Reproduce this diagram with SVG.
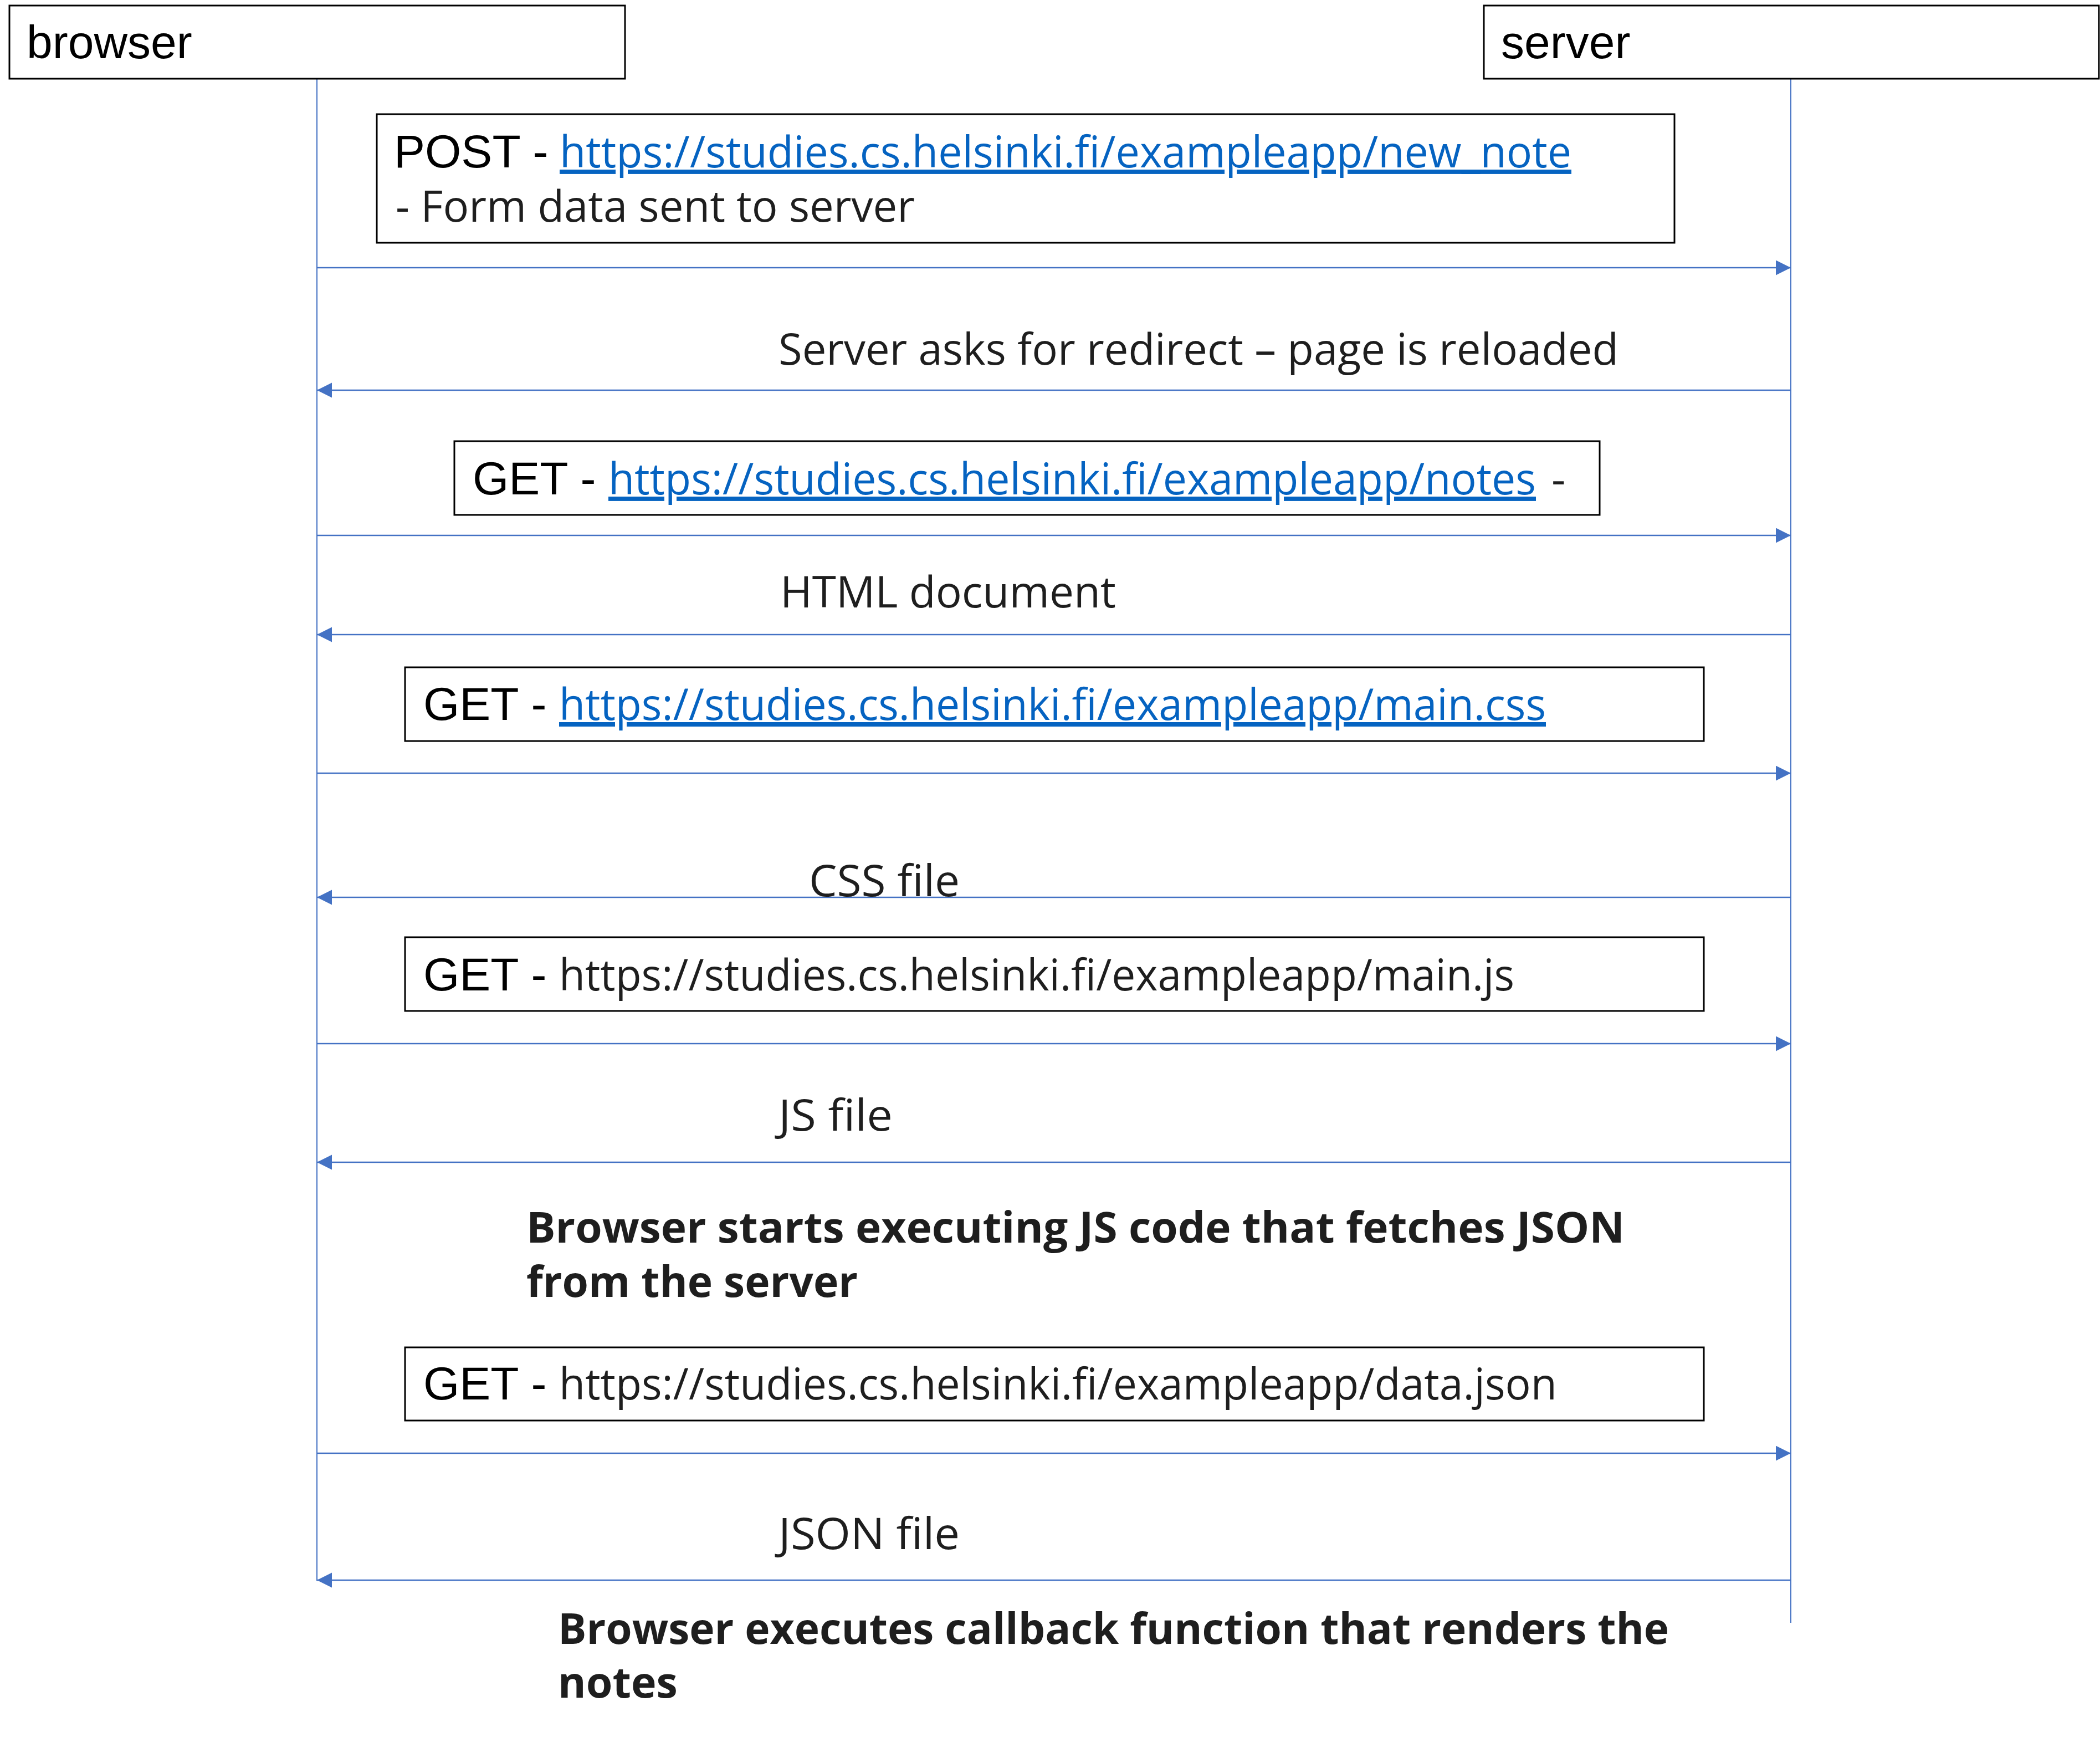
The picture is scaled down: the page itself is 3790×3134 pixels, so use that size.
<svg xmlns="http://www.w3.org/2000/svg" width="3790" height="3134" viewBox="0 0 3790 3134">
<style>
.box{fill:#fff;stroke:#000;stroke-width:3}
.life{stroke:#4472C4;stroke-width:2;fill:none}
.msg{stroke:#4472C4;stroke-width:2.5;fill:none;marker-end:url(#ah)}
.ar{font-family:"Liberation Sans",Arial,sans-serif;font-size:84px;fill:#000}
.hd{font-family:"Liberation Sans",Arial,sans-serif;font-size:84px;fill:#000}
.seg{font-family:"Open Sans","Noto Sans",sans-serif;font-size:79px;fill:#1e1e1e}
.link{fill:#0563C1;text-decoration:underline}
.bold{font-weight:bold;font-size:77px}
</style>
<defs>
<marker id="ah" markerUnits="userSpaceOnUse" markerWidth="28" markerHeight="28" refX="27" refY="13.5" orient="auto">
<path d="M0,0 L27,13.5 L0,27 z" fill="#4472C4"/>
</marker>
</defs>
<rect width="3790" height="3134" fill="#fff"/>

<g id="lifelines">
<line class="life" x1="572" y1="142" x2="572" y2="2852"/>
<line class="life" x1="3232" y1="142" x2="3232" y2="2928"/>
</g>

<g id="browser">
<rect class="box" x="17" y="10" width="1111" height="132"/>
<text class="hd" x="48" y="105">browser</text>
</g>
<g id="server">
<rect class="box" x="2678" y="10" width="1110" height="132"/>
<text class="hd" x="2709" y="105">server</text>
</g>

<g id="connectors">
<line class="msg" x1="572" y1="483" x2="3232" y2="483"/>
<line class="msg" x1="3232" y1="704" x2="572" y2="704"/>
<line class="msg" x1="572" y1="966" x2="3232" y2="966"/>
<line class="msg" x1="3232" y1="1145" x2="572" y2="1145"/>
<line class="msg" x1="572" y1="1395" x2="3232" y2="1395"/>
<line class="msg" x1="3232" y1="1619" x2="572" y2="1619"/>
<line class="msg" x1="572" y1="1883" x2="3232" y2="1883"/>
<line class="msg" x1="3232" y1="2097" x2="572" y2="2097"/>
<line class="msg" x1="572" y1="2622" x2="3232" y2="2622"/>
<line class="msg" x1="3232" y1="2851" x2="572" y2="2851"/>
</g>

<g id="post-new-note">
<rect class="box" x="680" y="206" width="2342" height="232"/>
<text class="ar" x="711" y="302">POST - </text>
<text class="seg link" x="1010" y="302" textLength="1826" lengthAdjust="spacingAndGlyphs">https://studies.cs.helsinki.fi/exampleapp/new_note</text>
<text class="seg" x="714" y="400" textLength="937" lengthAdjust="spacingAndGlyphs">- Form data sent to server</text>
</g>

<g id="label-redirect">
<text class="seg" x="1405" y="658" textLength="1516" lengthAdjust="spacingAndGlyphs">Server asks for redirect – page is reloaded</text>
</g>

<g id="get-notes">
<rect class="box" x="820" y="796" width="2067" height="133"/>
<text class="ar" x="853" y="892">GET - </text>
<text class="seg link" x="1098" y="892" textLength="1674" lengthAdjust="spacingAndGlyphs">https://studies.cs.helsinki.fi/exampleapp/notes</text>
<text class="seg" x="2800" y="892">-</text>
</g>

<g id="label-html">
<text class="seg" x="1408" y="1096" textLength="606" lengthAdjust="spacingAndGlyphs">HTML document</text>
</g>

<g id="get-css">
<rect class="box" x="731" y="1204" width="2344" height="133"/>
<text class="ar" x="764" y="1299">GET - </text>
<text class="seg link" x="1009" y="1299" textLength="1781" lengthAdjust="spacingAndGlyphs">https://studies.cs.helsinki.fi/exampleapp/main.css</text>
</g>

<g id="label-css">
<text class="seg" x="1460" y="1617" textLength="272" lengthAdjust="spacingAndGlyphs">CSS file</text>
</g>

<g id="get-js">
<rect class="box" x="731" y="1691" width="2344" height="133"/>
<text class="ar" x="764" y="1787">GET - </text>
<text class="seg" x="1009" y="1787" textLength="1724" lengthAdjust="spacingAndGlyphs">https://studies.cs.helsinki.fi/exampleapp/main.js</text>
</g>

<g id="label-js">
<text class="seg" x="1405" y="2040" textLength="206" lengthAdjust="spacingAndGlyphs">JS file</text>
</g>

<g id="note-executing">
<text class="seg bold" x="950" y="2242" textLength="1982" lengthAdjust="spacingAndGlyphs">Browser starts executing JS code that fetches JSON</text>
<text class="seg bold" x="950" y="2340" textLength="598" lengthAdjust="spacingAndGlyphs">from the server</text>
</g>

<g id="get-json">
<rect class="box" x="731" y="2431" width="2344" height="132"/>
<text class="ar" x="764" y="2525">GET - </text>
<text class="seg" x="1009" y="2525" textLength="1801" lengthAdjust="spacingAndGlyphs">https://studies.cs.helsinki.fi/exampleapp/data.json</text>
</g>

<g id="label-json">
<text class="seg" x="1405" y="2795" textLength="327" lengthAdjust="spacingAndGlyphs">JSON file</text>
</g>

<g id="note-callback">
<text class="seg bold" x="1007" y="2966" textLength="2005" lengthAdjust="spacingAndGlyphs">Browser executes callback function that renders the</text>
<text class="seg bold" x="1007" y="3063" textLength="216" lengthAdjust="spacingAndGlyphs">notes</text>
</g>
</svg>
